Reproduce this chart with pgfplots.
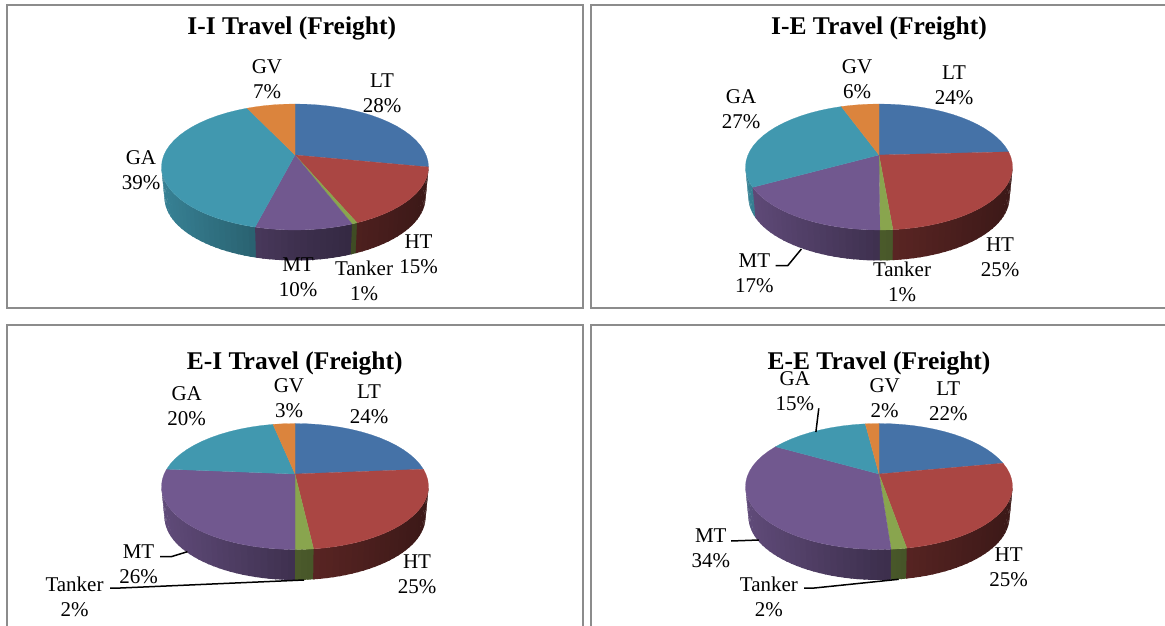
\documentclass[border=0pt]{standalone}
\usepackage{fontspec}
\setmainfont{Liberation Serif}
\usepackage{pgfplots}
\pgfplotsset{compat=1.18}

\definecolor{pblue}{HTML}{4572A7}
\definecolor{pred}{HTML}{AA4643}
\definecolor{pgreen}{HTML}{89A54E}
\definecolor{ppurple}{HTML}{71588F}
\definecolor{pteal}{HTML}{4198AF}
\definecolor{porange}{HTML}{DB843D}
\definecolor{framegray}{HTML}{8C8C8C}

% all axes run in image pixels, y downwards
\pgfplotsset{panel/.style={
    scale only axis, y dir=reverse, ticks=none,
    axis line style={draw=framegray, line width=2pt},
}}

% ellipse of the top face: centre \cx,\cy, apex of the wedges at \cx,\ay
\def\rx{133.5}
\def\ry{63}
\def\dep{30.5}

% top face of one slice, rim angles in degrees
\newcommand{\topslice}[3]{%
  \pgfmathtruncatemacro{\nseg}{ceil((#2-#1)/5)}%
  \xdef\pts{(\cx,\ay)}%
  \foreach \i in {0,...,\nseg}{%
    \pgfmathsetmacro{\ang}{#1+(#2-#1)*\i/\nseg}%
    \pgfmathsetmacro{\px}{\cx+\rx*cos(\ang)}%
    \pgfmathsetmacro{\py}{\cy-\ry*sin(\ang)}%
    \xdef\pts{\pts (\px,\py)}%
  }%
  \edef\tmp{\noexpand\addplot[forget plot, fill=#3, draw=#3, line width=.2pt] coordinates {\pts} --cycle;}\tmp
}

% front wall of one slice, darker to the right; each strip runs a little under the next
\newcommand{\sideslice}[3]{%
  \pgfmathtruncatemacro{\nseg}{ceil((#2-#1)/3)}%
  \foreach \i in {1,...,\nseg}{%
    \pgfmathsetmacro{\aa}{#1+(#2-#1)*(\i-1)/\nseg}%
    \pgfmathsetmacro{\ab}{#1+(#2-#1)*\i/\nseg}%
    \pgfmathsetmacro{\cm}{cos((\aa+\ab)/2)}%
    \pgfmathsetmacro{\shade}{\cm<0 ? 55-30*\cm : 55-20*\cm}%
    \pgfmathsetmacro{\ae}{\ab+0.7}%
    \pgfmathsetmacro{\xa}{\cx+\rx*cos(\aa)}%
    \pgfmathsetmacro{\ya}{\cy-\ry*sin(\aa)}%
    \pgfmathsetmacro{\xb}{\cx+\rx*cos(\ae)}%
    \pgfmathsetmacro{\yb}{\cy-\ry*sin(\ae)}%
    \pgfmathsetmacro{\xc}{\cx+(\rx-3)*cos(\ae)}%
    \pgfmathsetmacro{\yc}{\cy+\dep-\ry*sin(\ae)}%
    \pgfmathsetmacro{\xd}{\cx+(\rx-3)*cos(\aa)}%
    \pgfmathsetmacro{\yd}{\cy+\dep-\ry*sin(\aa)}%
    \edef\tmp{\noexpand\addplot[forget plot, fill=#3!\shade!black, draw=none]
      coordinates {(\xa,\ya)(\xb,\yb)(\xc,\yc)(\xd,\yd)} --cycle;}\tmp
  }%
}

\newcommand{\lab}[3]{\node[align=center, inner sep=0pt, yshift=-1.5pt, font=\fontsize{21}{25}\selectfont] at (axis cs:#1,#2) {#3};}
\newcommand{\ttl}[3]{\node[inner sep=0pt, font=\fontsize{25.5}{30}\selectfont\bfseries] at (axis cs:#1,#2) {#3};}

\begin{document}
\begin{tikzpicture}
\path[use as bounding box, clip] (0,0) rectangle (1165pt,626pt);

% I-I
\begin{axis}[panel, at={(7pt,621pt)}, anchor=north west, width=576pt, height=303pt,
    xmin=7, xmax=583, ymin=5, ymax=308]
  \def\cx{295}\def\cy{167}\def\ay{155}
  \sideslice{-180}{-107.4}{pteal}
  \sideslice{-107.4}{-64.7}{ppurple}
  \sideslice{-64.7}{-62.3}{pgreen}
  \sideslice{-62.3}{0}{pred}
  \topslice{0}{90}{pblue}
  \topslice{-62.3}{0}{pred}
  \topslice{-64.7}{-62.3}{pgreen}
  \topslice{-107.4}{-64.7}{ppurple}
  \topslice{111}{252.6}{pteal}
  \topslice{90}{111}{porange}
  \ttl{291.7}{28}{I-I Travel (Freight)}
  \lab{382}{91.5}{LT\\28\%}
  \lab{418.5}{252.5}{HT\\15\%}
  \lab{364}{279.5}{Tanker\\1\%}
  \lab{298}{275.5}{MT\\10\%}
  \lab{141}{168.5}{GA\\39\%}
  \lab{267}{77.5}{GV\\7\%}
\end{axis}

% I-E
\begin{axis}[panel, at={(591pt,621pt)}, anchor=north west, width=579pt, height=303pt,
    xmin=591, xmax=1170, ymin=5, ymax=308]
  \def\cx{879}\def\cy{167}\def\ay{155}
  \sideslice{-180}{-161.2}{pteal}
  \sideslice{-161.2}{-89.6}{ppurple}
  \sideslice{-89.6}{-84}{pgreen}
  \sideslice{-84}{0}{pred}
  \topslice{13.9}{90}{pblue}
  \topslice{-84}{13.9}{pred}
  \topslice{-89.6}{-84}{pgreen}
  \topslice{-161.2}{-89.6}{ppurple}
  \topslice{106.4}{198.8}{pteal}
  \topslice{90}{106.4}{porange}
  \addplot[forget plot, black, line width=1.5pt] coordinates {(775.5,265.7)(787.7,265.7)(801.4,249)};
  \ttl{879}{28}{I-E Travel (Freight)}
  \lab{954}{83.5}{LT\\24\%}
  \lab{1000}{255.5}{HT\\25\%}
  \lab{902}{280.5}{Tanker\\1\%}
  \lab{754.4}{271.5}{MT\\17\%}
  \lab{741}{108}{GA\\27\%}
  \lab{857}{77.5}{GV\\6\%}
\end{axis}

% E-I
\begin{axis}[panel, at={(7pt,301pt)}, anchor=north west, width=576pt, height=315pt,
    xmin=7, xmax=583, ymin=325, ymax=640]
  \def\cx{295}\def\cy{486.5}\def\ay{474}
  \sideslice{-180}{-90}{ppurple}
  \sideslice{-90}{-82}{pgreen}
  \sideslice{-82}{0}{pred}
  \topslice{15.9}{90}{pblue}
  \topslice{-82}{15.9}{pred}
  \topslice{-90}{-82}{pgreen}
  \topslice{164}{270}{ppurple}
  \topslice{99.5}{164}{pteal}
  \topslice{90}{99.5}{porange}
  \addplot[forget plot, black, line width=1.5pt] coordinates {(160,556.7)(171.2,556.7)(187.4,551.7)};
  \addplot[forget plot, black, line width=1.5pt] coordinates {(110,588)(120.4,588)(304,580)};
  \ttl{294.7}{363}{E-I Travel (Freight)}
  \lab{369}{402.5}{LT\\24\%}
  \lab{417}{572.5}{HT\\25\%}
  \lab{74.5}{595.5}{Tanker\\2\%}
  \lab{138.5}{562.3}{MT\\26\%}
  \lab{186.7}{405}{GA\\20\%}
  \lab{289}{396.5}{GV\\3\%}
\end{axis}

% E-E
\begin{axis}[panel, at={(591pt,301pt)}, anchor=north west, width=579pt, height=315pt,
    xmin=591, xmax=1170, ymin=325, ymax=640]
  \def\cx{879}\def\cy{486.5}\def\ay{474}
  \sideslice{-180}{-84.8}{ppurple}
  \sideslice{-84.8}{-78}{pgreen}
  \sideslice{-78}{0}{pred}
  \topslice{21.7}{90}{pblue}
  \topslice{-78}{21.7}{pred}
  \topslice{-84.8}{-78}{pgreen}
  \topslice{140.8}{275.2}{ppurple}
  \topslice{95.9}{140.8}{pteal}
  \topslice{90}{95.9}{porange}
  \addplot[forget plot, black, line width=1.5pt] coordinates {(818.8,408.3)(815.9,432)};
  \addplot[forget plot, black, line width=1.5pt] coordinates {(731.1,541)(758.9,540)};
  \addplot[forget plot, black, line width=1.5pt] coordinates {(804,588)(814.4,588)(898.7,579.3)};
  \ttl{879}{363}{E-E Travel (Freight)}
  \lab{948.3}{399.3}{LT\\22\%}
  \lab{1008.6}{566}{HT\\25\%}
  \lab{768.9}{595.5}{Tanker\\2\%}
  \lab{710.8}{546.8}{MT\\34\%}
  \lab{794.8}{390}{GA\\15\%}
  \lab{884.7}{396.5}{GV\\2\%}
\end{axis}
\end{tikzpicture}
\end{document}
